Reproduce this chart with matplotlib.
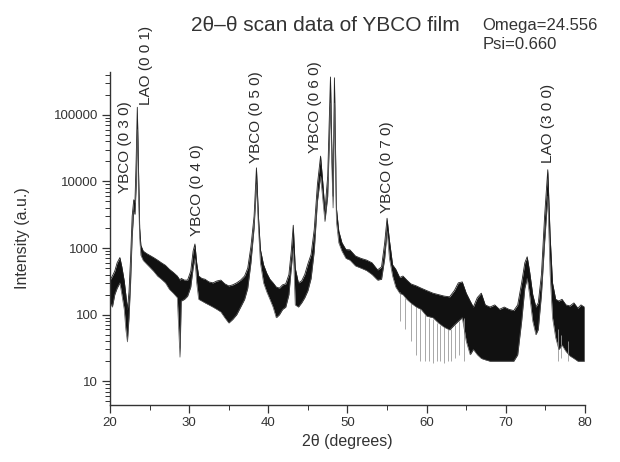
import matplotlib
matplotlib.use("agg")
import matplotlib.pyplot as plt
from matplotlib.ticker import FixedLocator, LogLocator, NullFormatter, MultipleLocator

plt.rcParams["font.family"] = ["Liberation Sans", "DejaVu Sans"]

# 2theta positions (deg) with upper / lower edge of the noisy trace (counts)
two_theta = [20.0, 20.3, 20.6, 20.9, 21.25, 21.5, 21.8, 22.0, 22.2, 22.4, 22.6, 22.8,
             23.0, 23.15, 23.3, 23.45, 23.6, 23.75, 23.9, 24.2, 24.6, 25.0, 25.5, 26.0,
             26.5, 27.0, 27.5, 28.0, 28.5, 28.84, 29.0, 29.4, 29.8, 30.2, 30.5, 30.73,
             30.95, 31.2, 31.6, 32.0, 32.5, 33.0, 33.5, 34.0, 34.5, 35.0, 35.5, 36.0,
             36.5, 37.0, 37.4, 37.8, 38.2, 38.5, 38.75, 39.0, 39.4, 39.8, 40.2, 40.6,
             41.0, 41.4, 41.8, 42.2, 42.6, 42.9, 43.15, 43.4, 43.8, 44.2, 44.6, 45.0,
             45.4, 45.8, 46.2, 46.6, 46.9, 47.15, 47.5, 47.85, 48.0, 48.18, 48.35, 48.6,
             48.9, 49.3, 49.8, 50.3, 51.0, 51.7, 52.4, 53.1, 53.8, 54.3, 54.7, 55.0,
             55.3, 55.7, 56.1, 56.6, 57.0, 57.5, 58.0, 58.7, 59.3, 60.0, 60.8, 61.5,
             62.2, 62.9, 63.5, 64.0, 64.5, 65.0, 65.5, 65.9, 66.4, 66.9, 67.4, 68.0,
             68.6, 69.2, 69.8, 70.4, 71.0, 71.5, 72.0, 72.4, 72.7, 73.0, 73.4, 73.8,
             74.1, 74.5, 74.9, 75.3, 75.6, 75.9, 76.3, 76.7, 77.1, 77.6, 78.1, 78.6,
             79.1, 79.5, 79.9]
upper = [330, 380, 450, 600, 720, 520, 320, 200, 120, 220, 700, 3000,
         5300, 4800, 20000, 130000, 15000, 2000, 1100, 900, 830, 780, 720, 660,
         600, 550, 480, 430, 380, 330, 350, 330, 330, 450, 900, 1150,
         600, 380, 350, 340, 310, 300, 320, 330, 290, 270, 280, 300,
         330, 380, 500, 1050, 3000, 16000, 3000, 950, 560, 420, 340, 300,
         260, 250, 280, 290, 400, 900, 2200, 500, 300, 320, 400, 580,
         800, 1900, 9000, 24000, 9000, 3600, 12000, 370000, 40000, 6000, 360000, 4000,
         1800, 1200, 950, 940, 760, 700, 660, 600, 470, 520, 1200, 2800,
         1300, 560, 480, 360, 380, 330, 290, 270, 250, 230, 210, 200,
         190, 185, 230, 300, 310, 210, 160, 130, 180, 210, 140, 130,
         140, 120, 130, 120, 115, 140, 300, 600, 740, 450, 200, 130,
         150, 400, 3000, 15000, 1500, 300, 170, 160, 170, 140, 135, 150,
         125, 140, 130]
lower = [150, 130, 200, 250, 300, 200, 120, 60, 39, 90, 300, 1500,
         3500, 3200, 8000, 60000, 6000, 1400, 780, 650, 580, 520, 450, 380,
         340, 300, 240, 210, 180, 23, 160, 170, 190, 260, 500, 700,
         300, 170, 160, 150, 140, 130, 120, 110, 90, 75, 85, 100,
         130, 170, 250, 600, 2000, 9000, 2000, 600, 300, 220, 170, 130,
         90, 100, 120, 130, 200, 500, 1000, 140, 130, 150, 180, 230,
         350, 900, 5000, 12000, 5000, 2500, 6000, 150000, 20000, 4000, 150000, 2500,
         1200, 900, 700, 660, 540, 500, 460, 400, 330, 340, 700, 1800,
         700, 380, 260, 210, 200, 170, 150, 130, 120, 95, 90, 75,
         65, 59, 70, 80, 90, 40, 25, 30, 25, 22, 21, 20,
         20, 20, 20, 20, 20, 25, 80, 250, 350, 200, 80, 50,
         60, 200, 1200, 6000, 400, 90, 45, 30, 35, 28, 24, 22,
         20, 20, 20]

# single dropout channels below the trace
dropout_theta = [56.6, 57.3, 58.0, 58.6, 59.2, 59.8, 60.3, 60.8, 61.3, 61.7,
                 62.2, 62.7, 63.1, 63.6, 64.1, 64.7, 76.6, 77.0, 77.8]
dropout_floor = [80, 60, 40, 25, 20, 20, 20, 19, 20, 20,
                 19, 20, 20, 22, 25, 20, 20, 22, 20]
dropout_top = [220, 180, 150, 130, 120, 100, 90, 85, 75, 70,
               65, 60, 60, 70, 80, 90, 60, 50, 40]

# peak labels: (text, 2theta, bottom of text in counts)
peak_labels = ["YBCO (0 3 0)", "LAO (0 0 1)", "YBCO (0 4 0)", "YBCO (0 5 0)",
               "YBCO (0 6 0)", "YBCO (0 7 0)", "LAO (3 0 0)"]
label_theta = [21.9, 24.5, 31.0, 38.5, 45.9, 55.0, 75.3]
label_base = [6700, 140000, 1500, 19000, 27000, 3400, 19000]

yticks = [10, 100, 1000, 10000, 100000]

fig = plt.figure(figsize=(6.2, 4.62), dpi=100)
ax = fig.add_axes([0.1774, 0.1234, 0.7661, 0.7208])

ax.vlines(dropout_theta, dropout_floor, dropout_top, color="#9a9a9a", lw=0.6)
ax.fill_between(two_theta, lower, upper, color="#111111", lw=0)
ax.plot(two_theta, upper, color="#222222", lw=0.6)
ax.plot(two_theta, lower, color="#555555", lw=0.5)

ax.set_yscale("log")
ax.set_xlim(20, 80)
ax.set_ylim(4.4, 440000)

ax.yaxis.set_major_locator(FixedLocator(yticks))
ax.set_yticklabels([str(v) for v in yticks])
ax.yaxis.set_minor_locator(LogLocator(base=10, subs=range(2, 10), numticks=20))
ax.yaxis.set_minor_formatter(NullFormatter())
ax.xaxis.set_major_locator(MultipleLocator(10))
ax.xaxis.set_minor_locator(MultipleLocator(5))

for side in ["top", "right"]:
    ax.spines[side].set_visible(False)
for side in ["left", "bottom"]:
    ax.spines[side].set_color("#333333")
    ax.spines[side].set_linewidth(1.0)

ax.tick_params(which="major", direction="out", length=6, width=0.9, color="#333333",
               labelsize=9.5, labelcolor="#333333", pad=2.5)
ax.tick_params(which="minor", direction="out", length=3.5, width=0.7, color="#333333")

ax.set_xlabel("2θ (degrees)", fontsize=11.5, color="#333333", labelpad=4)
ax.set_ylabel("Intensity (a.u.)", fontsize=11.5, color="#333333", labelpad=17)

for txt, xt, yb in zip(peak_labels, label_theta, label_base):
    ax.text(xt, yb, txt, rotation=90, ha="center", va="bottom",
            fontsize=11, color="#2a2a2a")

fig.text(0.525, 0.944, "2θ–θ scan data of YBCO film", ha="center", va="center",
         fontsize=15, color="#333333")
fig.text(0.778, 0.944, "Omega=24.556", ha="left", va="center", fontsize=12,
         color="#333333")
fig.text(0.778, 0.903, "Psi=0.660", ha="left", va="center", fontsize=12,
         color="#333333")

fig.savefig("out.png", dpi=100)
plt.close(fig)
